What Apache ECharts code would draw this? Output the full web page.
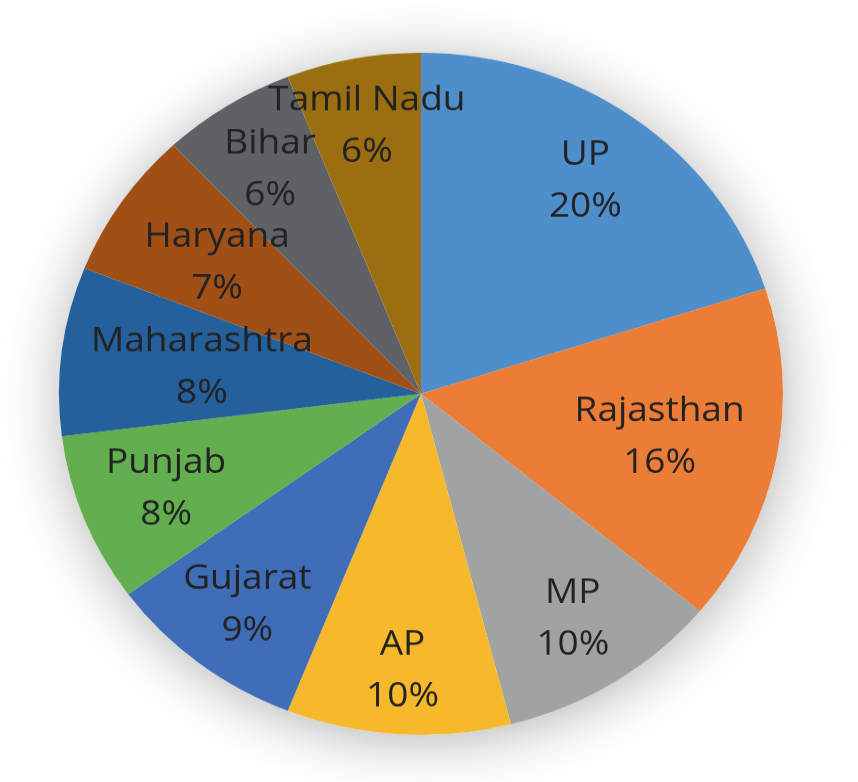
<!DOCTYPE html>
<html>
<head>
<meta charset="utf-8">
<script src="https://cdn.jsdelivr.net/npm/echarts@6/dist/echarts.min.js"></script>
<style>
  html, body { margin: 0; padding: 0; background: #fff; overflow: hidden; }
  /* the source pie is slightly flattened, so squash the whole canvas a bit */
  #chart { width: 858px; height: 830px; transform: scaleY(0.942); transform-origin: 0 0; }
</style>
</head>
<body>
<div id="chart"></div>
<script>
// data, clockwise from 12 o'clock
const states = ['UP', 'Rajasthan', 'MP', 'AP', 'Gujarat', 'Punjab', 'Maharashtra', 'Haryana', 'Bihar', 'Tamil Nadu']
const shares = [20, 16, 10, 10, 9, 8, 8, 7, 6, 6]

const colors = ['#4e8fcb', '#ec7d37', '#a0a2a3', '#f6b92b', '#406db8', '#63ae4e', '#23609c', '#a04f17', '#5e6266', '#9a6e11']
// how far out each label sits (fraction of radius), like Excel's best fit
const labelRadius = [0.76, 0.66, 0.77, 0.8, 0.77, 0.745, 0.6, 0.67, 0.765, 0.785]

const CX = 421
const CY = 418
const R = 362

const chart = echarts.init(document.getElementById('chart'), null, { renderer: 'canvas' })

chart.setOption({
  animation: false,
  backgroundColor: '#fff',
  series: [
    {
      // plain disc underneath, only there for the soft shadow
      type: 'pie',
      silent: true,
      z: 1,
      center: [CX, CY],
      radius: [0, R],
      label: { show: false },
      labelLine: { show: false },
      emphasis: { disabled: true },
      itemStyle: {
        color: '#fff',
        shadowBlur: 60,
        shadowColor: 'rgba(0, 0, 0, 0.3)',
        shadowOffsetX: 2,
        shadowOffsetY: 6
      },
      data: [{ value: 1, name: '' }]
    },
    {
      type: 'pie',
      z: 2,
      center: [CX, CY],
      radius: [0, R],
      startAngle: 90,
      clockwise: true,
      silent: true,
      emphasis: { disabled: true },
      itemStyle: { borderWidth: 0 },
      label: {
        show: true,
        position: 'inside',
        formatter: '{b}\n{c}%',
        fontFamily: '"Open Sans", sans-serif',
        fontSize: 37,
        lineHeight: 55,
        color: '#222'
      },
      labelLine: { show: false },
      // 'inside' puts labels at half the radius; push each one out to its own spot
      labelLayout: (params) => {
        const r = params.labelRect
        const lx = r.x + r.width / 2
        const ly = r.y + r.height / 2
        const k = labelRadius[params.dataIndex] / 0.5 - 1
        return { dx: (lx - CX) * k, dy: (ly - CY) * k }
      },
      data: states.map((name, i) => ({
        name,
        value: shares[i],
        itemStyle: { color: colors[i] }
      }))
    }
  ]
})
</script>
</body>
</html>
